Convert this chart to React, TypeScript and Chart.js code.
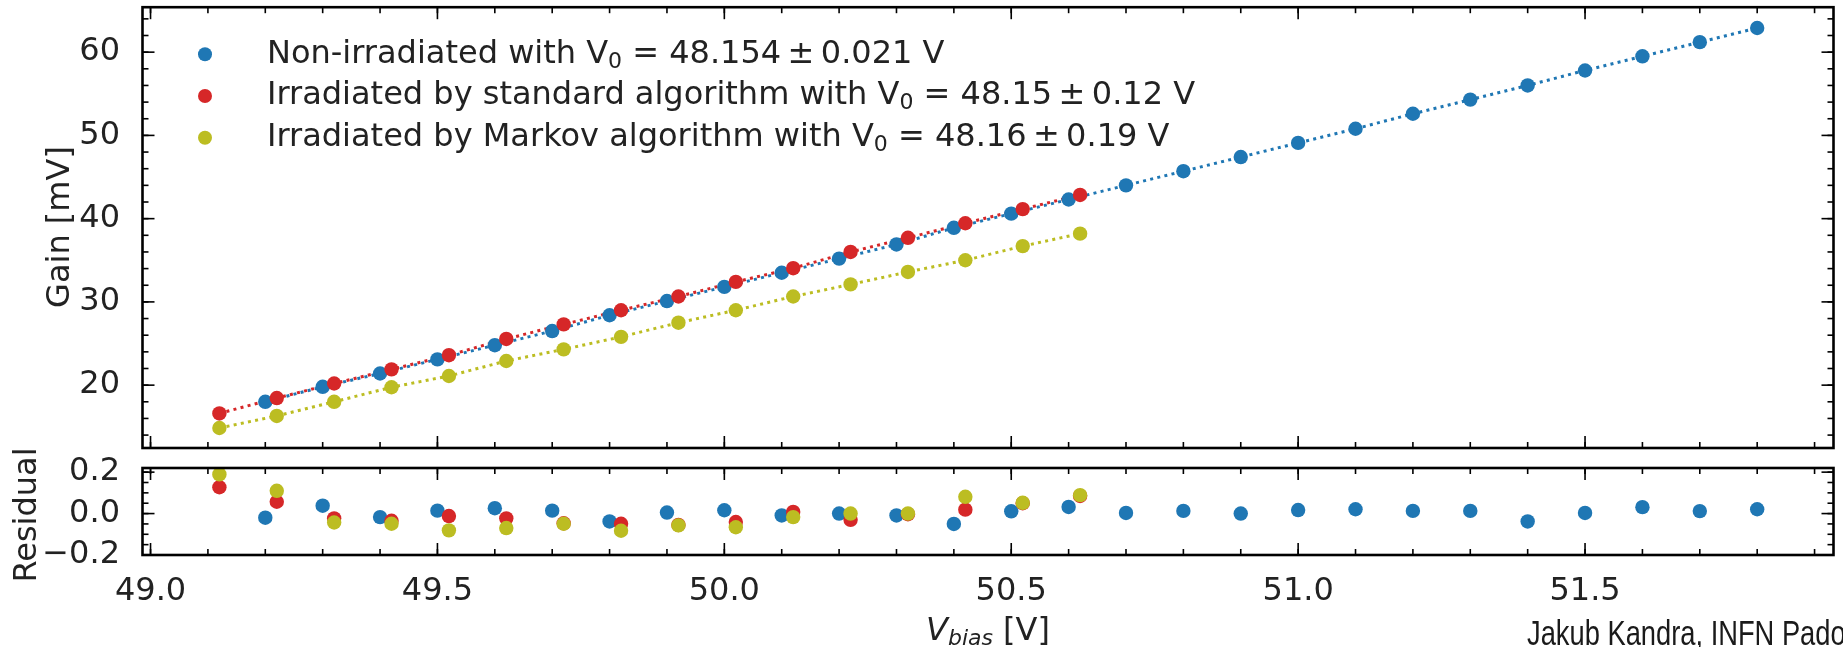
import React, { useEffect, useRef } from 'react';
import { Chart, registerables } from 'chart.js';

Chart.register(...registerables);

// ---------------- data ----------------
const xNonIrr = [49.2, 49.3, 49.4, 49.5, 49.6, 49.7, 49.8, 49.9, 50.0, 50.1, 50.2, 50.3, 50.4, 50.5, 50.6, 50.7, 50.8, 50.9, 51.0, 51.1, 51.2, 51.3, 51.4, 51.5, 51.6, 51.7, 51.8];
const gainNonIrr = [18.0, 19.8, 21.4, 23.1, 24.8, 26.5, 28.4, 30.1, 31.8, 33.5, 35.2, 36.9, 38.9, 40.6, 42.3, 44.0, 45.7, 47.4, 49.1, 50.8, 52.6, 54.3, 56.0, 57.8, 59.5, 61.2, 62.9];
const resNonIrr = [-0.02, 0.038, -0.017, 0.014, 0.026, 0.014, -0.038, 0.005, 0.016, -0.009, 0.0, -0.009, -0.05, 0.011, 0.032, 0.003, 0.013, 0.0, 0.017, 0.021, 0.013, 0.013, -0.038, 0.003, 0.031, 0.012, 0.021];

const xIrr = [49.12, 49.22, 49.32, 49.42, 49.52, 49.62, 49.72, 49.82, 49.92, 50.02, 50.12, 50.22, 50.32, 50.42, 50.52, 50.62];
const gainStd = [16.6, 18.45, 20.2, 21.9, 23.6, 25.55, 27.3, 29.0, 30.65, 32.4, 34.05, 36.0, 37.7, 39.45, 41.15, 42.85];
const resStd = [0.127, 0.057, -0.023, -0.035, -0.012, -0.023, -0.047, -0.049, -0.055, -0.041, 0.008, -0.03, -0.003, 0.019, 0.05, 0.085];
const gainMarkov = [14.85, 16.3, 18.0, 19.75, 21.1, 22.9, 24.3, 25.8, 27.5, 29.0, 30.65, 32.1, 33.6, 35.0, 36.7, 38.2];
const resMarkov = [0.189, 0.11, -0.043, -0.049, -0.081, -0.07, -0.049, -0.083, -0.057, -0.066, -0.017, 0.0, 0.0, 0.081, 0.052, 0.089];

const legendLabels = [
  'Non-irradiated with V\u2080 = 48.154\u2009\u00b1\u20090.021 V',
  'Irradiated by standard algorithm with V\u2080 = 48.15\u2009\u00b1\u20090.12 V',
  'Irradiated by Markov algorithm with V\u2080 = 48.16\u2009\u00b1\u20090.19 V',
];

const xTickValues = [49.0, 49.5, 50.0, 50.5, 51.0, 51.5];
const gainTickValues = [20, 30, 40, 50, 60];
const resTickValues = [-0.2, 0.0, 0.2];

const X_MIN = 48.986;
const X_MAX = 51.933;
const GAIN_MIN = 12.45;
const GAIN_MAX = 65.4;
const RES_MIN = -0.2;
const RES_MAX = 0.22;

// ---------------- style ----------------
const BLUE = '#1f77b4';
const RED = '#d62728';
const OLIVE = '#bcbd22';
const TEXT = '#222222';
const FONT = 'DejaVu Sans';
const FS = 32;

const range = (a: number, b: number, step: number) => {
  const out: number[] = [];
  const n = Math.round((b - a) / step);
  for (let i = 0; i <= n; i++) out.push(Math.round((a + i * step) * 1000) / 1000);
  return out;
};
const xMinor = range(49.0, 51.9, 0.1);
const gainMinor = range(14, 64, 2);
const resMinor = range(-0.2, 0.2, 0.05);

const pts = (xs: number[], ys: number[]) => xs.map((x, i) => ({ x, y: ys[i] }));

function drawFrameTicks(ctx: CanvasRenderingContext2D, a: any, xs: any, ys: any,
  xMaj: number[], xMin: number[], yMaj: number[], yMin: number[]) {
  const MAJ = 12, MIN = 6;
  ctx.save();
  ctx.strokeStyle = '#000';
  ctx.lineWidth = 1.6;
  const seg = (x1: number, y1: number, x2: number, y2: number) => {
    ctx.beginPath(); ctx.moveTo(x1, y1); ctx.lineTo(x2, y2); ctx.stroke();
  };
  const doX = (vals: number[], len: number) => vals.forEach(v => {
    const p = xs.getPixelForValue(v);
    if (p < a.left - 0.5 || p > a.right + 0.5) return;
    seg(p, a.bottom, p, a.bottom - len);
    seg(p, a.top, p, a.top + len);
  });
  const doY = (vals: number[], len: number) => vals.forEach(v => {
    const p = ys.getPixelForValue(v);
    if (p < a.top - 0.5 || p > a.bottom + 0.5) return;
    seg(a.left, p, a.left + len, p);
    seg(a.right, p, a.right - len, p);
  });
  doX(xMin, MIN); doX(xMaj, MAJ);
  doY(yMin, MIN); doY(yMaj, MAJ);
  ctx.lineWidth = 2.6;
  ctx.strokeRect(a.left, a.top, a.right - a.left, a.bottom - a.top);
  ctx.restore();
}

function drawRotated(ctx: CanvasRenderingContext2D, text: string, x: number, y: number) {
  ctx.save();
  ctx.translate(x, y);
  ctx.rotate(-Math.PI / 2);
  ctx.font = `${FS}px "${FONT}"`;
  ctx.fillStyle = TEXT;
  ctx.textAlign = 'center';
  ctx.textBaseline = 'alphabetic';
  ctx.fillText(text, 0, 0);
  ctx.restore();
}

function drawLegend(ctx: CanvasRenderingContext2D) {
  const colors = [BLUE, RED, OLIVE];
  ctx.save();
  legendLabels.forEach((label, i) => {
    const y = 54.3 + i * 41.7;
    ctx.fillStyle = colors[i];
    ctx.beginPath(); ctx.arc(205, y, 7, 0, Math.PI * 2); ctx.fill();
    ctx.fillStyle = TEXT;
    ctx.textAlign = 'left';
    ctx.textBaseline = 'alphabetic';
    const base = y + 8.4;
    let x = 267;
    const parts = label.split('\u2080');
    parts.forEach((p, k) => {
      ctx.font = `${FS}px "${FONT}"`;
      ctx.fillText(p, x, base);
      x += ctx.measureText(p).width;
      if (k < parts.length - 1) {
        ctx.font = `22px "${FONT}"`;
        ctx.fillText('0', x, base + 5);
        x += ctx.measureText('0').width;
      }
    });
  });
  ctx.restore();
}

function drawXTitle(ctx: CanvasRenderingContext2D, cx: number, base: number) {
  ctx.save();
  ctx.fillStyle = TEXT;
  ctx.textBaseline = 'alphabetic';
  ctx.textAlign = 'left';
  const fV = `italic ${FS}px "${FONT}"`;
  const fS = `italic 22px "${FONT}"`;
  const fN = `${FS}px "${FONT}"`;
  ctx.font = fV; const wV = ctx.measureText('V').width;
  ctx.font = fS; const wS = ctx.measureText('bias').width;
  ctx.font = fN; const wN = ctx.measureText(' [V]').width;
  let x = cx - (wV + wS + wN) / 2;
  ctx.font = fV; ctx.fillText('V', x, base); x += wV;
  ctx.font = fS; ctx.fillText('bias', x, base + 5); x += wS;
  ctx.font = fN; ctx.fillText(' [V]', x, base);
  ctx.restore();
}

const zeroPad = (s: any) => { s.paddingTop = 0; s.paddingBottom = 0; s.paddingLeft = 0; s.paddingRight = 0; };

const TOP_H = 460;
const BOT_TOP = 430;
const BOT_H = 647 - BOT_TOP;

export default function App() {
  const topRef = useRef<HTMLCanvasElement | null>(null);
  const botRef = useRef<HTMLCanvasElement | null>(null);

  useEffect(() => {
    if (!topRef.current || !botRef.current) return;
    const tickFont = { family: FONT, size: FS, lineHeight: 1.2 };

    const topDecor = {
      id: 'topDecor',
      afterDraw(chart: any) {
        const { ctx, chartArea, scales } = chart;
        drawFrameTicks(ctx, chartArea, scales.x, scales.y, xTickValues, xMinor, gainTickValues, gainMinor);
        drawLegend(ctx);
        drawRotated(ctx, 'Gain [mV]', 69, 227);
      },
    };
    const botDecor = {
      id: 'botDecor',
      afterDraw(chart: any) {
        const { ctx, chartArea, scales } = chart;
        drawFrameTicks(ctx, chartArea, scales.x, scales.y, xTickValues, xMinor, resTickValues, resMinor);
        drawRotated(ctx, 'Residual', 36, 515 - BOT_TOP);
        drawXTitle(ctx, 988, 640 - BOT_TOP);
      },
    };

    const lineDs = (xs: number[], ys: number[], color: string, order: number) => ({
      data: pts(xs, ys), showLine: true, borderColor: color, borderWidth: 3,
      borderDash: [3, 4.3], pointRadius: 0, pointHoverRadius: 0, fill: false, order,
    });
    const ptDs = (xs: number[], ys: number[], color: string, order: number) => ({
      data: pts(xs, ys), backgroundColor: color, borderColor: color, borderWidth: 0,
      pointRadius: 7.2, pointHoverRadius: 7.2, showLine: false, order,
    });

    const top = new Chart(topRef.current, {
      type: 'scatter',
      data: {
        datasets: [
          lineDs(xNonIrr, gainNonIrr, BLUE, 6),
          lineDs(xIrr, gainStd, RED, 5),
          lineDs(xIrr, gainMarkov, OLIVE, 4),
          ptDs(xNonIrr, gainNonIrr, BLUE, 3),
          ptDs(xIrr, gainStd, RED, 2),
          ptDs(xIrr, gainMarkov, OLIVE, 1),
        ] as any,
      },
      options: {
        animation: false,
        responsive: false,
        events: [],
        layout: { padding: { left: 0, right: 1843 - 1833.5, top: 6, bottom: TOP_H - 448 } },
        plugins: { legend: { display: false }, tooltip: { enabled: false } },
        scales: {
          x: { type: 'linear', min: X_MIN, max: X_MAX, display: false },
          y: {
            type: 'linear', min: GAIN_MIN, max: GAIN_MAX,
            grid: { display: false }, border: { display: false },
            afterFit: (s: any) => { s.width = 142.5; zeroPad(s); },
            afterBuildTicks: (s: any) => { s.ticks = gainTickValues.map(v => ({ value: v })); },
            ticks: { padding: 14.5, font: tickFont, color: TEXT, callback: (v: any) => String(v) },
          },
        },
      } as any,
      plugins: [topDecor],
    });

    const bot = new Chart(botRef.current, {
      type: 'scatter',
      data: {
        datasets: [
          ptDs(xNonIrr, resNonIrr, BLUE, 3),
          ptDs(xIrr, resStd, RED, 2),
          ptDs(xIrr, resMarkov, OLIVE, 1),
        ] as any,
      },
      options: {
        animation: false,
        responsive: false,
        events: [],
        layout: { padding: { left: 0, right: 1843 - 1833.5, top: 468 - BOT_TOP, bottom: 0 } },
        plugins: { legend: { display: false }, tooltip: { enabled: false } },
        scales: {
          x: {
            type: 'linear', min: X_MIN, max: X_MAX,
            grid: { display: false }, border: { display: false },
            afterFit: (s: any) => { s.height = BOT_H - (555 - BOT_TOP); zeroPad(s); },
            afterBuildTicks: (s: any) => { s.ticks = xTickValues.map(v => ({ value: v })); },
            ticks: {
              padding: 9, font: tickFont, color: TEXT, maxRotation: 0, autoSkip: false,
              callback: (v: any) => Number(v).toFixed(1),
            },
          },
          y: {
            type: 'linear', min: RES_MIN, max: RES_MAX,
            grid: { display: false }, border: { display: false },
            afterFit: (s: any) => { s.width = 142.5; zeroPad(s); },
            afterBuildTicks: (s: any) => { s.ticks = resTickValues.map(v => ({ value: v })); },
            ticks: {
              padding: 14.5, font: tickFont, color: TEXT,
              callback: (v: any) => (Number(v) < -1e-9 ? '\u2212' : '') + Math.abs(Number(v)).toFixed(1),
            },
          },
        },
      } as any,
      plugins: [botDecor],
    });

    return () => { top.destroy(); bot.destroy(); };
  }, []);

  return (
    <div style={{ position: 'absolute', left: 0, top: 0, width: 1843, height: 647, overflow: 'hidden', background: '#ffffff' }}>
      <canvas ref={topRef} width={1843} height={TOP_H}
        style={{ position: 'absolute', left: 0, top: 0, width: 1843, height: TOP_H }} />
      <canvas ref={botRef} width={1843} height={BOT_H}
        style={{ position: 'absolute', left: 0, top: BOT_TOP, width: 1843, height: BOT_H }} />
      <div style={{
        position: 'absolute', left: 1527, top: 615, fontFamily: '"Liberation Sans", Arial, sans-serif',
        fontSize: 35, lineHeight: '35px', whiteSpace: 'nowrap', color: '#1a1a1a',
        transform: 'scaleX(0.78)', transformOrigin: 'left top',
      }}>Jakub Kandra, INFN Padova</div>
    </div>
  );
}
